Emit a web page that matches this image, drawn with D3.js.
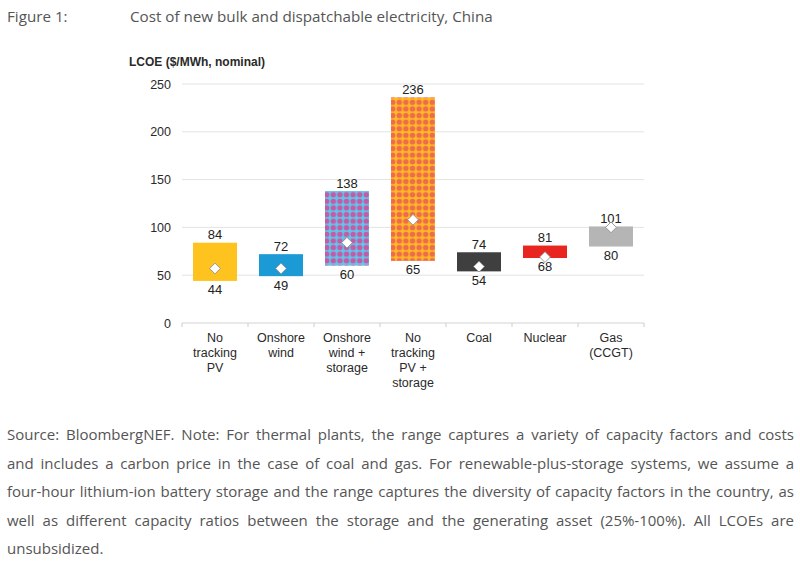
<!DOCTYPE html>
<html>
<head>
<meta charset="utf-8">
<script src="https://cdn.jsdelivr.net/npm/d3@7"></script>
<style>
  html, body { margin: 0; padding: 0; background: #fff; }
  svg { display: block; }
</style>
</head>
<body>
<svg id="chart" width="800" height="562"></svg>
<script>
// ---- data ----
const categories = ["No tracking PV", "Onshore wind", "Onshore wind + storage", "No tracking PV + storage", "Coal", "Nuclear", "Gas (CCGT)"];
const categoryLines = [["No", "tracking", "PV"], ["Onshore", "wind"], ["Onshore", "wind +", "storage"], ["No", "tracking", "PV +", "storage"], ["Coal"], ["Nuclear"], ["Gas", "(CCGT)"]];
const lowValues = [44, 49, 60, 65, 54, 68, 80];
const highValues = [84, 72, 138, 236, 74, 81, 101];
const midValues = [57, 57, 84, 108, 59, 69, 100];
const yTicks = [0, 50, 100, 150, 200, 250];
const titleLabel = "Figure 1:";
const titleText = "Cost of new bulk and dispatchable electricity, China";
const yAxisTitle = "LCOE ($/MWh, nominal)";
const sourceLines = [
  "Source: BloombergNEF. Note: For thermal plants, the range captures a variety of capacity factors and costs",
  "and includes a carbon price in the case of coal and gas. For renewable-plus-storage systems, we assume a",
  "four-hour lithium-ion battery storage and the range captures the diversity of capacity factors in the country, as",
  "well as different capacity ratios between the storage and the generating asset (25%-100%). All LCOEs are",
  "unsubsidized."
];

// ---- styles ----
const fills = ["#FFC320", "#1C9AD6", "url(#patWind)", "url(#patPV)", "#3F3F3F", "#E8261F", "#B5B5B5"];
const svg = d3.select("#chart");
const defs = svg.append("defs");

function makePattern(id, bg, dot) {
  const s = 6.6;
  const p = defs.append("pattern").attr("id", id).attr("patternUnits", "userSpaceOnUse")
    .attr("width", s).attr("height", s);
  p.append("rect").attr("width", s).attr("height", s).attr("fill", bg);
  p.append("circle").attr("cx", s / 2).attr("cy", s / 2).attr("r", 2.7).attr("fill", dot);
}
makePattern("patWind", "#5FC6EA", "#C65AA6");
makePattern("patPV", "#FFBA22", "#EE6B4E");

// ---- scales ----
const x = d3.scaleBand().domain(categories).range([182, 644]).paddingInner(1 / 3).paddingOuter(1 / 6);
const y = d3.scaleLinear().domain([0, 250]).range([323, 84]);
const step = x.step();

// ---- titles ----
const titleFont = "'Open Sans', sans-serif";
svg.append("text").attr("x", 7).attr("y", 22).attr("font-family", titleFont).attr("font-size", 15.2)
  .attr("fill", "#555").text(titleLabel);
svg.append("text").attr("x", 130).attr("y", 22).attr("font-family", titleFont).attr("font-size", 15.2)
  .attr("fill", "#555").text(titleText);

const chartFont = "'Liberation Sans', Arial, sans-serif";
svg.append("text").attr("x", 129).attr("y", 66).attr("font-family", chartFont).attr("font-size", 12)
  .attr("font-weight", "bold").attr("fill", "#2a2a2a").text(yAxisTitle);

// ---- gridlines ----
const g = svg.append("g");
g.selectAll("line.grid").data(yTicks.filter(d => d > 0)).join("line")
  .attr("x1", 182).attr("x2", 644).attr("y1", d => y(d)).attr("y2", d => y(d))
  .attr("stroke", "#e3e3e3").attr("stroke-width", 1);

// y tick labels
g.selectAll("text.ytick").data(yTicks).join("text")
  .attr("x", 171).attr("y", d => y(d) + 4.5).attr("text-anchor", "end")
  .attr("font-family", chartFont).attr("font-size", 12.5).attr("fill", "#2a2a2a").text(d => d);

// x axis line & ticks
g.append("line").attr("x1", 182).attr("x2", 644).attr("y1", y(0)).attr("y2", y(0))
  .attr("stroke", "#d4d4d4").attr("stroke-width", 1.2);
const tickXs = d3.range(categories.length + 1).map(i => x.range()[0] + i * step);
g.selectAll("line.xtick").data(tickXs).join("line")
  .attr("x1", d => d).attr("x2", d => d).attr("y1", y(0)).attr("y2", y(0) + 4)
  .attr("stroke", "#d4d4d4").attr("stroke-width", 1.2);

// category labels
categories.forEach((c, i) => {
  const t = g.append("text").attr("text-anchor", "middle").attr("font-family", chartFont)
    .attr("font-size", 12.5).attr("fill", "#2a2a2a");
  categoryLines[i].forEach((ln, j) => {
    t.append("tspan").attr("x", x(c) + x.bandwidth() / 2).attr("y", 342 + j * 15).text(ln);
  });
});

// ---- bars ----
const bars = categories.map((c, i) => ({ c, lo: lowValues[i], hi: highValues[i], mid: midValues[i], fill: fills[i] }));
g.selectAll("rect.bar").data(bars).join("rect")
  .attr("x", d => x(d.c)).attr("width", x.bandwidth())
  .attr("y", d => y(d.hi)).attr("height", d => y(d.lo) - y(d.hi))
  .attr("fill", d => d.fill);

// value labels
g.selectAll("text.hi").data(bars).join("text")
  .attr("x", d => x(d.c) + x.bandwidth() / 2).attr("y", d => y(d.hi) - 3.5)
  .attr("text-anchor", "middle").attr("font-family", chartFont).attr("font-size", 13)
  .attr("fill", "#222").text(d => d.hi);
g.selectAll("text.lo").data(bars).join("text")
  .attr("x", d => x(d.c) + x.bandwidth() / 2).attr("y", d => y(d.lo) + 13.5)
  .attr("text-anchor", "middle").attr("font-family", chartFont).attr("font-size", 13)
  .attr("fill", "#222").text(d => d.lo);

// diamonds
const diamond = d3.symbol().type(d3.symbolSquare).size(58);
g.selectAll("path.mid").data(bars).join("path")
  .attr("d", diamond)
  .attr("transform", d => `translate(${x(d.c) + x.bandwidth() / 2},${y(d.mid)}) rotate(45)`)
  .attr("fill", "#fff").attr("stroke", "#8a8a8a").attr("stroke-width", 0.8);

// ---- source note (justified) ----
const left = 7, right = 794, W = right - left;
const baselines = [440, 468.5, 497, 525.5, 554];
sourceLines.forEach((ln, i) => {
  const t = svg.append("text").attr("x", left).attr("y", baselines[i])
    .attr("font-family", titleFont).attr("font-size", 15).attr("fill", "#555").text(ln);
  const w = t.node().getComputedTextLength();
  const nSpaces = (ln.match(/ /g) || []).length;
  const last = i === sourceLines.length - 1;
  if (!last) {
    if (w < W) {
      t.attr("word-spacing", (W - w) / nSpaces);
    } else {
      t.attr("textLength", W).attr("lengthAdjust", "spacingAndGlyphs");
    }
  }
});
</script>
</body>
</html>
